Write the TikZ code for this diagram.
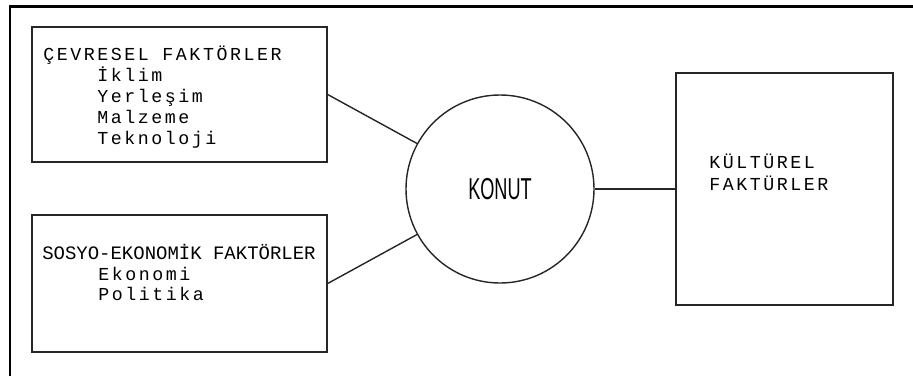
\documentclass[tikz,border=0pt]{standalone}
\usepackage{fontspec}
\newfontfamily\typewr[LetterSpace=14]{Liberation Mono}
\newfontfamily\typewrnarrow{Liberation Mono}
\newfontfamily\konutfont{Liberation Sans}
\tikzset{
  factorbox/.style={draw=black!85, line width=1pt, rectangle, inner sep=0pt},
  itemtext/.style={anchor=base west, inner sep=0pt, text=black,
    font=\fontsize{13pt}{15pt}\selectfont\typewr},
  headtext/.style={anchor=base west, inner sep=0pt, text=black,
    font=\fontsize{13.5pt}{15pt}\selectfont\typewrnarrow},
  link/.style={draw=black!85, line width=1pt}
}
\begin{document}
\begin{tikzpicture}[scale=0.25]
\useasboundingbox (0,0) rectangle (91.3,-37.6);
% frame
\draw [black, line width=1.8pt] (1.0,-37.6) -- (1.0,-0.65) -- (91.3,-0.65);
% boxes
\node [factorbox, minimum width=7.375cm, minimum height=3.375cm] (cevrebox) at (17.95,-9.45) {};
\node [factorbox, minimum width=7.375cm, minimum height=3.425cm] (sosyobox) at (17.95,-28.35) {};
\node [factorbox, circle, minimum size=4.7cm, font=\konutfont\fontsize{21.5pt}{24pt}\selectfont] (konut) at (50,-18.9) {\scalebox{0.6}[1]{KONUT}};
\node [factorbox, minimum width=5.425cm, minimum height=5.8cm] (kulturbox) at (78.45,-18.9) {};
% texts
\node [itemtext] (cevre) at (4.3,-6.0) {ÇEVRESEL FAKTÖRLER};
\node [itemtext] (iklim) at (9.7,-8.1) {İklim};
\node [itemtext] (yerlesim) at (9.7,-10.2) {Yerleşim};
\node [itemtext] (malzeme) at (9.7,-12.3) {Malzeme};
\node [itemtext] (teknoloji) at (9.7,-14.4) {Teknoloji};
\node [headtext] (sosyo) at (4.2,-25.9) {SOSYO-EKONOMİK FAKTÖRLER};
\node [itemtext] (ekonomi) at (9.8,-28.0) {Ekonomi};
\node [itemtext] (politika) at (9.8,-30.0) {Politika};
\node [itemtext] (kulturel) at (70.9,-16.8) {KÜLTÜREL};
\node [itemtext] (faktor) at (70.9,-19.0) {FAKTÜRLER};
% links
\draw [link] (cevrebox.east) -- (konut);
\draw [link] (sosyobox.east) -- (konut);
\draw [link] (konut) -- (kulturbox);
\end{tikzpicture}
\end{document}
